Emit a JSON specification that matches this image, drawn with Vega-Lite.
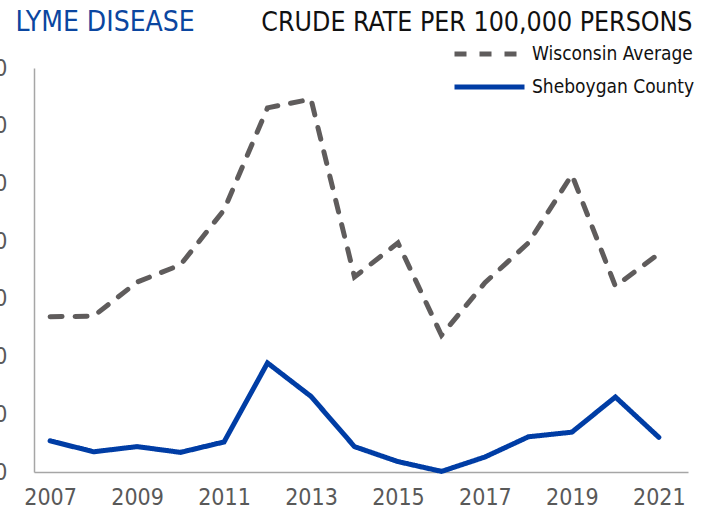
{
  "$schema": "https://vega.github.io/schema/vega-lite/v6.json",
  "width": 654,
  "height": 404,
  "autosize": "none",
  "padding": {"left": 34, "top": 68, "right": 22, "bottom": 46},
  "background": "white",
  "config": {
    "view": {"stroke": null},
    "font": "Liberation Sans Narrow, DejaVu Sans Condensed, sans-serif"
  },
  "data": {
    "values": [
      {"year": 2007, "series": "Wisconsin Average", "rate": 26.9},
      {"year": 2008, "series": "Wisconsin Average", "rate": 27.0},
      {"year": 2009, "series": "Wisconsin Average", "rate": 32.9},
      {"year": 2010, "series": "Wisconsin Average", "rate": 35.9},
      {"year": 2011, "series": "Wisconsin Average", "rate": 45.4},
      {"year": 2012, "series": "Wisconsin Average", "rate": 63.1},
      {"year": 2013, "series": "Wisconsin Average", "rate": 64.6},
      {"year": 2014, "series": "Wisconsin Average", "rate": 33.8},
      {"year": 2015, "series": "Wisconsin Average", "rate": 39.7},
      {"year": 2016, "series": "Wisconsin Average", "rate": 23.7},
      {"year": 2017, "series": "Wisconsin Average", "rate": 32.8},
      {"year": 2018, "series": "Wisconsin Average", "rate": 39.7},
      {"year": 2019, "series": "Wisconsin Average", "rate": 51.5},
      {"year": 2020, "series": "Wisconsin Average", "rate": 32.2},
      {"year": 2021, "series": "Wisconsin Average", "rate": 37.8},
      {"year": 2007, "series": "Sheboygan County", "rate": 5.4},
      {"year": 2008, "series": "Sheboygan County", "rate": 3.5},
      {"year": 2009, "series": "Sheboygan County", "rate": 4.4},
      {"year": 2010, "series": "Sheboygan County", "rate": 3.4},
      {"year": 2011, "series": "Sheboygan County", "rate": 5.2},
      {"year": 2012, "series": "Sheboygan County", "rate": 18.9},
      {"year": 2013, "series": "Sheboygan County", "rate": 13.1},
      {"year": 2014, "series": "Sheboygan County", "rate": 4.4},
      {"year": 2015, "series": "Sheboygan County", "rate": 1.8},
      {"year": 2016, "series": "Sheboygan County", "rate": 0.1},
      {"year": 2017, "series": "Sheboygan County", "rate": 2.6},
      {"year": 2018, "series": "Sheboygan County", "rate": 6.1},
      {"year": 2019, "series": "Sheboygan County", "rate": 6.9},
      {"year": 2020, "series": "Sheboygan County", "rate": 13.0},
      {"year": 2021, "series": "Sheboygan County", "rate": 6.0}
    ]
  },
  "mark": {"type": "line", "strokeWidth": 5, "strokeCap": "round", "strokeJoin": "miter"},
  "encoding": {
    "x": {
      "field": "year",
      "type": "quantitative",
      "scale": {"domain": [2006.63, 2021.67], "nice": false, "zero": false},
      "axis": {
        "values": [2007, 2009, 2011, 2013, 2015, 2017, 2019, 2021],
        "format": "d",
        "grid": false,
        "ticks": false,
        "domainColor": "#a6a6a6",
        "domainWidth": 1.5,
        "labelFontSize": 23,
        "labelColor": "#595959",
        "labelPadding": 14,
        "title": "LYME DISEASE",
        "titleX": -19,
        "titleY": -450,
        "titleAlign": "left",
        "titleBaseline": "middle",
        "titleAnchor": null,
        "titleFontSize": 28,
        "titleFontWeight": "normal",
        "titleColor": "#0b46a0"
      }
    },
    "y": {
      "field": "rate",
      "type": "quantitative",
      "scale": {"domain": [0, 70], "nice": false},
      "axis": {
        "values": [0, 10, 20, 30, 40, 50, 60, 70],
        "grid": false,
        "ticks": false,
        "domainColor": "#a6a6a6",
        "domainWidth": 1.5,
        "labelFontSize": 23,
        "labelColor": "#595959",
        "labelPadding": 27,
        "title": "CRUDE RATE PER 100,000 PERSONS",
        "titleAngle": 0,
        "titleX": 658,
        "titleY": -46,
        "titleAlign": "right",
        "titleBaseline": "middle",
        "titleFontSize": 26.5,
        "titleFontWeight": "normal",
        "titleColor": "#111111"
      }
    },
    "color": {
      "field": "series",
      "type": "nominal",
      "scale": {"domain": ["Wisconsin Average", "Sheboygan County"], "range": ["#5f5c5c", "#003da5"]},
      "legend": {
        "orient": "none",
        "legendX": 418,
        "legendY": -24,
        "title": null,
        "symbolType": "stroke",
        "symbolSize": 4900,
        "symbolStrokeWidth": 5,
        "clipHeight": 20,
        "rowPadding": 13,
        "labelFontSize": 19,
        "labelLimit": 400,
        "labelColor": "#111111",
        "labelOffset": 5
      }
    },
    "strokeDash": {
      "field": "series",
      "type": "nominal",
      "scale": {"domain": ["Wisconsin Average", "Sheboygan County"], "range": [[12, 13], [1, 0]]},
      "legend": {
        "orient": "none",
        "legendX": 418,
        "legendY": -24,
        "title": null,
        "symbolType": "stroke",
        "symbolSize": 4900,
        "symbolStrokeWidth": 5,
        "clipHeight": 20,
        "rowPadding": 13,
        "labelFontSize": 19,
        "labelLimit": 400,
        "labelColor": "#111111",
        "labelOffset": 5
      }
    }
  }
}
